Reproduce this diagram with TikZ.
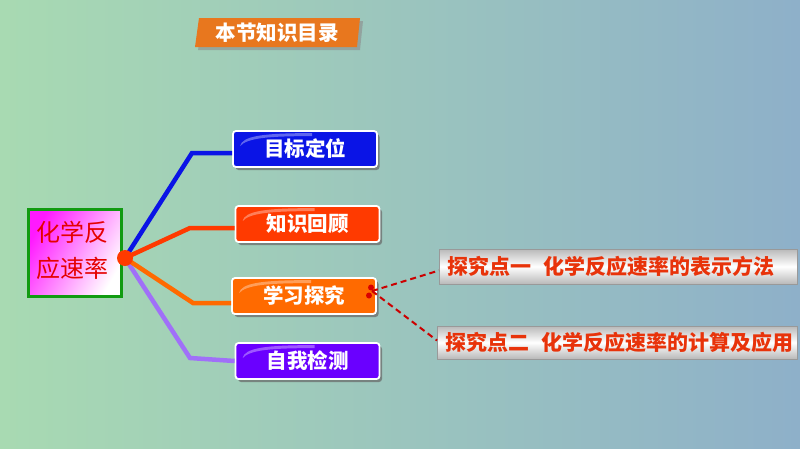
\documentclass[tikz,border=0pt]{standalone}
\usepackage{fontspec}
\newfontfamily\cjk{Noto Sans CJK SC}
\usetikzlibrary{shadows}
\definecolor{bgL}{HTML}{A8DAB2}
\definecolor{bgR}{HTML}{8EB0C9}
\definecolor{cBlue}{HTML}{0A14E6}
\definecolor{cRed}{HTML}{FF3A00}
\definecolor{cOrange}{HTML}{FF6A00}
\definecolor{cPurple}{HTML}{6A00FF}
\definecolor{lPurple}{HTML}{A070F8}
\definecolor{tOrange}{HTML}{E8771E}
\definecolor{bGreen}{HTML}{119B11}
\definecolor{tRed}{HTML}{E8330A}
\begin{document}
\begin{tikzpicture}[x=1pt,y=-1pt,
  btn/.style={draw=white,line width=1.8pt,rounded corners=3pt,minimum width=144pt,minimum height=36pt,
     text=white,font=\cjk\fontsize{20.5}{20}\selectfont\bfseries,inner sep=0pt,
     drop shadow={shadow xshift=2.5pt,shadow yshift=-3pt,fill=black!60,opacity=0.7}},
  br/.style={line width=4.5pt},
  topic/.style={draw=gray!80,line width=0.6pt,top color=gray!55,bottom color=gray!55,middle color=white,
     text=tRed,font=\cjk\fontsize{21}{21}\selectfont\bfseries,inner sep=0pt,anchor=west,align=left},
  dsh/.style={draw=red!80!black,line width=2pt,dash pattern=on 6pt off 4pt}]
\useasboundingbox (0,0) rectangle (800,448);
\shade[left color=bgL,right color=bgR] (0,0) rectangle (800,448);
% title banner
\fill[black!45,opacity=0.6] (203,21) -- (363,21) -- (360,50) -- (198,50) -- cycle;
\fill[tOrange] (199,18) -- (360,18) -- (357,47) -- (195,47) -- cycle;
\node[text=white,font=\cjk\fontsize{20.5}{20}\selectfont\bfseries] (title) at (277,32.5) {本节知识目录};
% center box
\node[draw=bGreen,line width=2.5pt,minimum width=93pt,minimum height=87pt,inner sep=0pt,
  left color=magenta!90!white,right color=white,shading angle=60] (c) at (75,253) {};
\node[text=red!90!black,font=\cjk\fontsize{24}{36}\selectfont,align=left] (ctext) at (72,250) {化学反\\应速率};
% buttons
\node[btn,fill=cBlue] (b1) at (305,149) {目标定位};
\node[btn,fill=cRed] (b2) at (307.5,224) {知识回顾};
\node[btn,fill=cOrange] (b3) at (304,296) {学习探究};
\node[btn,fill=cPurple] (b4) at (307.5,361) {自我检测};
% gloss highlights
\foreach \n in {b1,b2,b3,b4}{
  \fill[white,opacity=0.35] ([shift={(8,16)}]\n.north west) .. controls ([shift={(10,6)}]\n.north west) and ([shift={(30,3)}]\n.north west) .. ([shift={(80,3)}]\n.north west) -- ([shift={(80,6)}]\n.north west) .. controls ([shift={(35,6)}]\n.north west) and ([shift={(15,8)}]\n.north west) .. cycle;
}
% branches
\coordinate (hub) at (125,258);
\coordinate (e1) at (192,153);
\coordinate (e2) at (190,228);
\coordinate (e3) at (193,303);
\coordinate (e4) at (190,358);
\draw[br,lPurple] (hub) -- (e4) -- (b4.west);
\draw[br,cOrange] (hub) -- (e3) -- (b3.west |- e3);
\draw[br,cBlue] (hub) -- (e1) -- (b1.west |- e1);
\draw[br,cRed] (hub) -- (e2) -- (b2.west |- e2);
\fill[cRed] (hub) circle (8pt);
% topics
\node[topic,minimum width=358pt,minimum height=35pt,text width=350pt] (t1) at (439,266.5) {\hspace*{4pt}探究点一\hspace{12pt}化学反应速率的表示方法};
\node[topic,minimum width=360pt,minimum height=33pt,text width=352pt] (t2) at (437,342.5) {\hspace*{4pt}探究点二\hspace{12pt}化学反应速率的计算及应用};
\coordinate (sp) at (372,291);
\draw[dsh] (sp) -- ([yshift=-4pt]t1.west);
\draw[dsh] (sp) -- ([yshift=2pt]t2.west);
\fill[red!85!black] (371,287.5) circle (3pt);
\fill[red!85!black] (369,295.5) circle (3pt);
\end{tikzpicture}
\end{document}
